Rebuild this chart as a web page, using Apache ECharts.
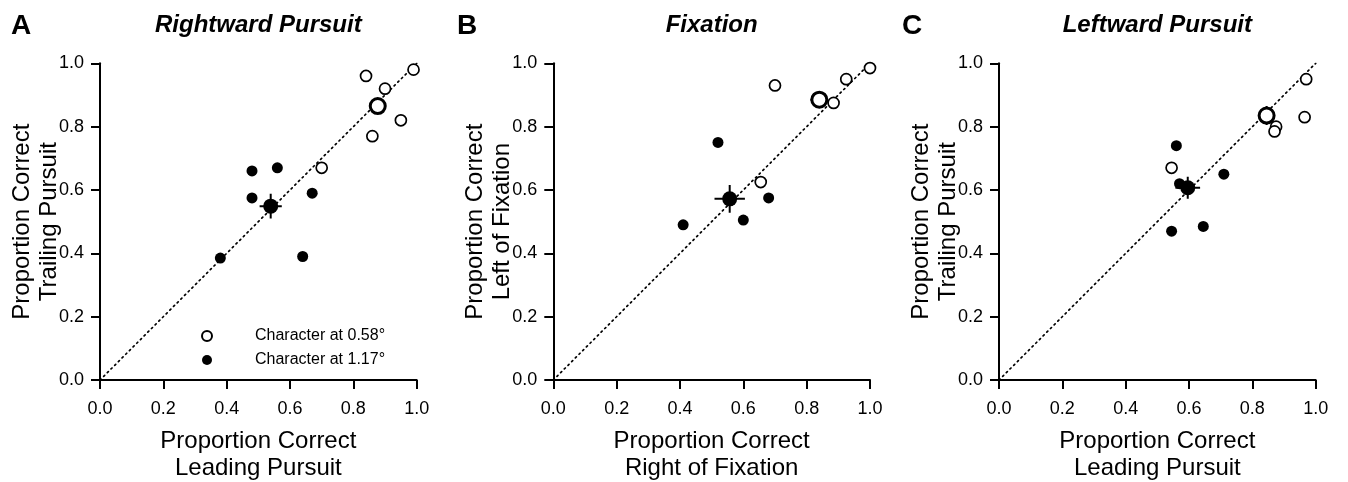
<!DOCTYPE html>
<html>
<head>
<meta charset="utf-8">
<script src="https://cdn.jsdelivr.net/npm/echarts@6/dist/echarts.min.js"></script>
<style>
html,body{margin:0;padding:0;background:#fff;}
#chart{width:1348px;height:482px;}
</style>
</head>
<body>
<div id="chart"></div>
<script>
// ---------- data ----------
const panelLetters = ['A', 'B', 'C'];
const panelTitles = ['Rightward Pursuit', 'Fixation', 'Leftward Pursuit'];
const xNames = ['Proportion Correct\nLeading Pursuit', 'Proportion Correct\nRight of Fixation', 'Proportion Correct\nLeading Pursuit'];
const yNames = ['Proportion Correct\nTrailing Pursuit', 'Proportion Correct\nLeft of Fixation', 'Proportion Correct\nTrailing Pursuit'];
const tickValues = [0, 0.2, 0.4, 0.6, 0.8, 1.0];
const legendNames = ['Character at 0.58°', 'Character at 1.17°'];

// individual observers, small character (0.58°) - open circles
const openA = [[0.99, 0.98], [0.84, 0.96], [0.90, 0.92], [0.95, 0.82], [0.86, 0.77], [0.70, 0.67]];
const openB = [[1.00, 0.985], [0.925, 0.95], [0.70, 0.93], [0.885, 0.875], [0.835, 0.89], [0.655, 0.625]];
const openC = [[0.97, 0.95], [0.965, 0.83], [0.875, 0.80], [0.87, 0.785], [0.545, 0.67]];
// individual observers, large character (1.17°) - filled circles
const filledA = [[0.48, 0.66], [0.56, 0.67], [0.48, 0.575], [0.67, 0.59], [0.38, 0.385], [0.64, 0.39]];
const filledB = [[0.52, 0.75], [0.68, 0.575], [0.60, 0.505], [0.41, 0.49]];
const filledC = [[0.56, 0.74], [0.71, 0.65], [0.57, 0.62], [0.645, 0.485], [0.545, 0.47]];
// means [x, y, xErr, yErr]
const openMeanA = [0.877, 0.865, 0.02, 0.02];
const openMeanB = [0.84, 0.885, 0.028, 0.023];
const openMeanC = [0.845, 0.835, 0.02, 0.03];
const filledMeanA = [0.539, 0.549, 0.035, 0.039];
const filledMeanB = [0.557, 0.572, 0.048, 0.044];
const filledMeanC = [0.596, 0.607, 0.039, 0.035];
const unityLine = [[0, 0], [1, 1]];

const openSets = [openA, openB, openC];
const filledSets = [filledA, filledB, filledC];
const openMeans = [openMeanA, openMeanB, openMeanC];
const filledMeans = [filledMeanA, filledMeanB, filledMeanC];

// ---------- layout ----------
const FONT = '"Liberation Sans", Arial, Helvetica, sans-serif';
const gridLefts = [100, 553.3, 999];
const gridTop = 63.3, gridSize = 316.7;

const grids = [], xAxes = [], yAxes = [], series = [], graphics = [];
const fmt = v => v.toFixed(1);

for (let i = 0; i < 3; i++) {
  grids.push({
    left: gridLefts[i], top: gridTop, width: gridSize, height: gridSize,
    containLabel: false, outerBoundsMode: 'none'
  });
  const axisCommon = {
    min: 0, max: 1, interval: 0.2,
    axisLine: { show: true, onZero: false, lineStyle: { color: '#000', width: 2 } },
    axisTick: { show: true, inside: false, length: 9, lineStyle: { color: '#000', width: 2 } },
    axisLabel: { color: '#000', fontSize: 18, fontFamily: FONT, formatter: fmt },
    splitLine: { show: false },
    nameLocation: 'middle',
    nameMoveOverlap: false,
    nameTextStyle: { color: '#000', fontSize: 24, fontFamily: FONT, lineHeight: 27 }
  };
  xAxes.push(Object.assign({}, axisCommon, {
    type: 'value', gridIndex: i, name: xNames[i], nameGap: 48,
    axisLabel: Object.assign({}, axisCommon.axisLabel, { margin: 20 })
  }));
  yAxes.push(Object.assign({}, axisCommon, {
    type: 'value', gridIndex: i, name: yNames[i], nameGap: 37,
    axisLabel: Object.assign({}, axisCommon.axisLabel, { margin: 16 })
  }));

  // unity (dotted) line
  series.push({
    type: 'line', xAxisIndex: i, yAxisIndex: i, data: unityLine, symbol: 'none', silent: true,
    lineStyle: { color: '#000', width: 1.7, type: [1.4, 3.8], cap: 'round' }, z: 1
  });
  // individual points
  series.push({
    name: legendNames[0], type: 'scatter', xAxisIndex: i, yAxisIndex: i, data: openSets[i],
    symbol: 'circle', symbolSize: 11,
    itemStyle: { color: '#fff', borderColor: '#000', borderWidth: 1.7, opacity: 1 }, z: 3
  });
  series.push({
    name: legendNames[1], type: 'scatter', xAxisIndex: i, yAxisIndex: i, data: filledSets[i],
    symbol: 'circle', symbolSize: 11,
    itemStyle: { color: '#000', borderColor: '#000', borderWidth: 0, opacity: 1 }, z: 3
  });
  // error bars for the means
  [openMeans[i], filledMeans[i]].forEach((m, k) => {
    const [mx, my, ex, ey] = m;
    series.push({
      type: 'line', xAxisIndex: i, yAxisIndex: i, symbol: 'none', silent: true,
      data: [[mx - ex, my], [mx + ex, my]],
      lineStyle: { color: '#000', width: 2 }, z: 4
    });
    series.push({
      type: 'line', xAxisIndex: i, yAxisIndex: i, symbol: 'none', silent: true,
      data: [[mx, my - ey], [mx, my + ey]],
      lineStyle: { color: '#000', width: 2 }, z: 4
    });
    series.push({
      name: k === 0 ? 'mean058_' + i : 'mean117_' + i,
      type: 'scatter', xAxisIndex: i, yAxisIndex: i, data: [[mx, my]],
      symbol: 'circle', symbolSize: 15,
      itemStyle: k === 0
        ? { color: '#fff', borderColor: '#000', borderWidth: 3, opacity: 1 }
        : { color: '#000', borderWidth: 0, opacity: 1 },
      z: 5
    });
  });

  // panel letter and title
  graphics.push({
    type: 'text', left: [11, 457, 902][i], top: 12,
    style: { text: panelLetters[i], font: 'bold 28px ' + FONT, fill: '#000' }
  });
  graphics.push({
    type: 'text', x: gridLefts[i] + gridSize / 2, y: 25,
    style: { text: panelTitles[i], font: 'italic bold 24px ' + FONT, fill: '#000', textAlign: 'center', textVerticalAlign: 'middle' }
  });
}

const chart = echarts.init(document.getElementById('chart'), null, { renderer: 'canvas' });
chart.setOption({
  animation: false,
  backgroundColor: '#fff',
  grid: grids,
  xAxis: xAxes,
  yAxis: yAxes,
  legend: {
    data: legendNames,
    orient: 'vertical',
    left: 196, top: 323,
    itemWidth: 10, itemHeight: 10, itemGap: 8,
    selectedMode: false,
    textStyle: { color: '#000', fontSize: 16, fontFamily: FONT, padding: [0, 0, 0, 38] }
  },
  graphic: graphics,
  series: series
});
</script>
</body>
</html>
